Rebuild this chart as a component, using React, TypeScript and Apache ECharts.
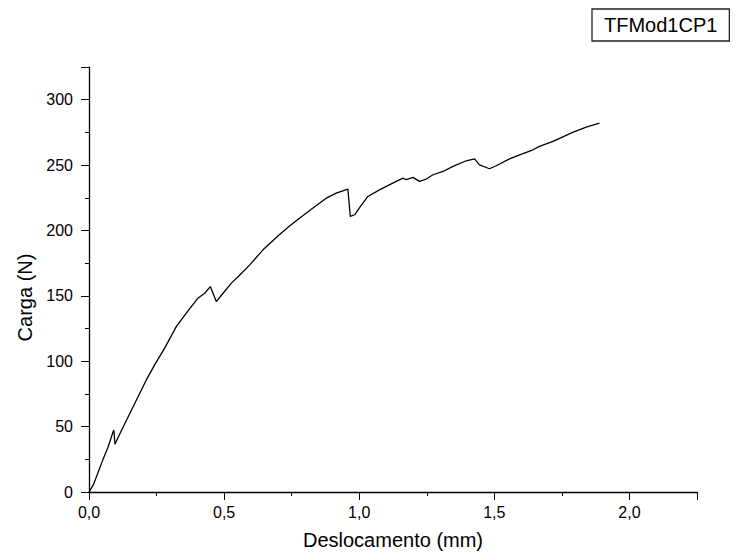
import React, { useEffect, useRef } from "react";
import * as echarts from "echarts";

const seriesName = "TFMod1CP1";
const xTitle = "Deslocamento (mm)";
const yTitle = "Carga (N)";

const displacement = [
  0, 0.015, 0.03, 0.05, 0.07, 0.089, 0.092, 0.096, 0.12, 0.151, 0.182, 0.212, 0.245,
  0.28, 0.323, 0.36, 0.403, 0.428, 0.449, 0.471, 0.496, 0.527, 0.558, 0.595, 0.644,
  0.7, 0.74, 0.78, 0.829, 0.878, 0.915, 0.958, 0.967, 0.983, 1.0, 1.032, 1.075, 1.137,
  1.162, 1.174, 1.199, 1.223, 1.248, 1.273, 1.31, 1.347, 1.396, 1.427, 1.445, 1.482,
  1.507, 1.556, 1.606, 1.643, 1.667, 1.717, 1.79, 1.84, 1.889,
];
const load = [
  0, 5, 13, 24, 34, 46, 47.4, 36.5, 47, 60, 73, 85.7, 98,
  110, 126.5, 136.8, 148.2, 152, 157.1, 145.6, 152, 159.7, 166, 173.7, 185.2,
  196, 203, 209.5, 217.1, 224.7, 228.5, 231.6, 210.7, 212, 217.1, 226, 231, 237.5,
  240, 238.8, 240.6, 237.5, 239.3, 242.6, 245.1, 249, 253.3, 254.8, 250.2, 247.2,
  249.5, 254.8, 258.7, 261.7, 264.3, 268.1, 275, 279.1, 282.1,
];

const FONT = "'Liberation Sans', Arial, sans-serif";

export default function App() {
  const ref = useRef<HTMLDivElement>(null);
  useEffect(() => {
    if (!ref.current) return;
    const chart = echarts.init(ref.current, null, { renderer: "svg" });
    const data = displacement.map((x, i) => [x, load[i]]);
    chart.setOption({
      animation: false,
      backgroundColor: "#fff",
      textStyle: { fontFamily: FONT },
      legend: {
        data: [seriesName],
        icon: "none",
        itemWidth: 0,
        left: 592,
        top: 9,
        padding: [6, 12, 6, 7],
        borderColor: "#222",
        borderWidth: 1.3,
        textStyle: { fontSize: 20, color: "#000", fontFamily: FONT },
      },
      grid: { left: 89, right: 41, top: 67, bottom: 68, containLabel: false },
      xAxis: {
        type: "value",
        min: 0,
        max: 2.25,
        interval: 0.5,
        name: xTitle,
        nameLocation: "middle",
        nameGap: 38,
        nameTextStyle: { fontSize: 20, color: "#000", fontFamily: FONT },
        axisLine: { show: true, lineStyle: { color: "#000", width: 1.3 } },
        axisTick: { show: true, length: 8, lineStyle: { color: "#000" } },
        minorTick: { show: true, splitNumber: 2, length: 4, lineStyle: { color: "#000" } },
        splitLine: { show: false },
        axisLabel: {
          margin: 12,
          fontSize: 16,
          color: "#000",
          showMaxLabel: false,
          formatter: (v: number) => v.toFixed(1).replace(".", ","),
        },
      },
      yAxis: {
        type: "value",
        min: 0,
        max: 325,
        interval: 50,
        name: yTitle,
        nameLocation: "middle",
        nameGap: 54,
        nameTextStyle: { fontSize: 20, color: "#000", fontFamily: FONT, padding: [0, 36, 0, 0] },
        axisLine: { show: true, lineStyle: { color: "#000", width: 1.3 } },
        axisTick: { show: true, length: 8, lineStyle: { color: "#000" } },
        minorTick: { show: true, splitNumber: 2, length: 4, lineStyle: { color: "#000" } },
        splitLine: { show: false },
        axisLabel: { margin: 16, fontSize: 16, color: "#000", showMaxLabel: false },
      },
      series: [
        {
          name: seriesName,
          type: "line",
          data,
          showSymbol: false,
          symbol: "none",
          lineStyle: { color: "#000", width: 1.3 },
        },
      ],
    });
    return () => chart.dispose();
  }, []);
  return <div ref={ref} style={{ width: 738, height: 560, margin: -8 }} />;
}
